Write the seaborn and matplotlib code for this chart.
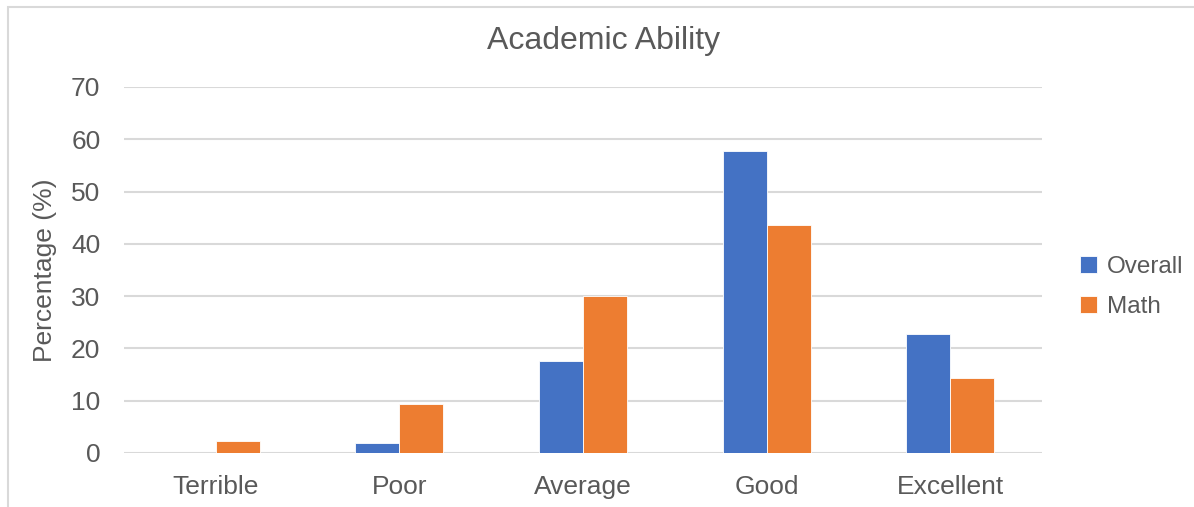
import matplotlib
matplotlib.use("Agg")
import matplotlib.pyplot as plt
import seaborn as sns
import pandas as pd
from matplotlib.patches import Rectangle

categories = ["Terrible", "Poor", "Average", "Good", "Excellent"]
overall = [0.0, 1.9, 17.6, 57.7, 22.7]
math_vals = [2.3, 9.4, 30.1, 43.7, 14.4]
series_names = ["Overall", "Math"]
y_ticks = [0, 10, 20, 30, 40, 50, 60, 70]

df = pd.DataFrame({
    "Category": categories * 2,
    "Series": [series_names[0]] * len(categories) + [series_names[1]] * len(categories),
    "Value": overall + math_vals,
})

sns.set_theme(style="white")
plt.rcParams["font.family"] = ["Liberation Sans", "DejaVu Sans"]
TXT = "#595959"

W, H = 1194, 507
fig = plt.figure(figsize=(W / 100, H / 100), dpi=100)
ax = fig.add_axes([124 / W, (H - 453) / H, (1042 - 124) / W, (453 - 87) / H])

sns.barplot(data=df, x="Category", y="Value", hue="Series", order=categories,
            hue_order=series_names, palette=["#4472C4", "#ED7D31"],
            saturation=1, width=0.48, ax=ax, edgecolor="white",
            linewidth=0.6, legend=True)

ax.set_ylim(0, 70)
ax.set_xlim(-0.5, len(categories) - 0.5)
ax.set_yticks(y_ticks)
ax.yaxis.grid(True, color="#D9D9D9", linewidth=1.5)
ax.set_axisbelow(True)
for s in ax.spines.values():
    s.set_visible(False)
ax.tick_params(axis="both", length=0, labelsize=19, colors=TXT)
ax.tick_params(axis="y", pad=17)
ax.tick_params(axis="x", pad=16)
ax.set_xlabel("")
ax.set_ylabel("Percentage (%)", fontsize=19, color=TXT, labelpad=10)

fig.text(604 / W, 1 - 41 / H, "Academic Ability", ha="center", va="center",
         fontsize=23, color=TXT)

handles, labels = ax.get_legend_handles_labels()
ax.legend_.remove()
leg = fig.legend(handles, labels, loc="center left",
                 bbox_to_anchor=(1058 / W, 1 - 287 / H), frameon=False,
                 fontsize=17.5, handlelength=0.7, handleheight=0.7,
                 handletextpad=0.4, labelspacing=0.75, labelcolor=TXT)

fig.patches.append(Rectangle((8 / W, -0.1), 1.2, 1 - 7 / H + 0.1,
                             transform=fig.transFigure, fill=False,
                             edgecolor="#D9D9D9", linewidth=1.5))

fig.savefig("out.png", dpi=100)
